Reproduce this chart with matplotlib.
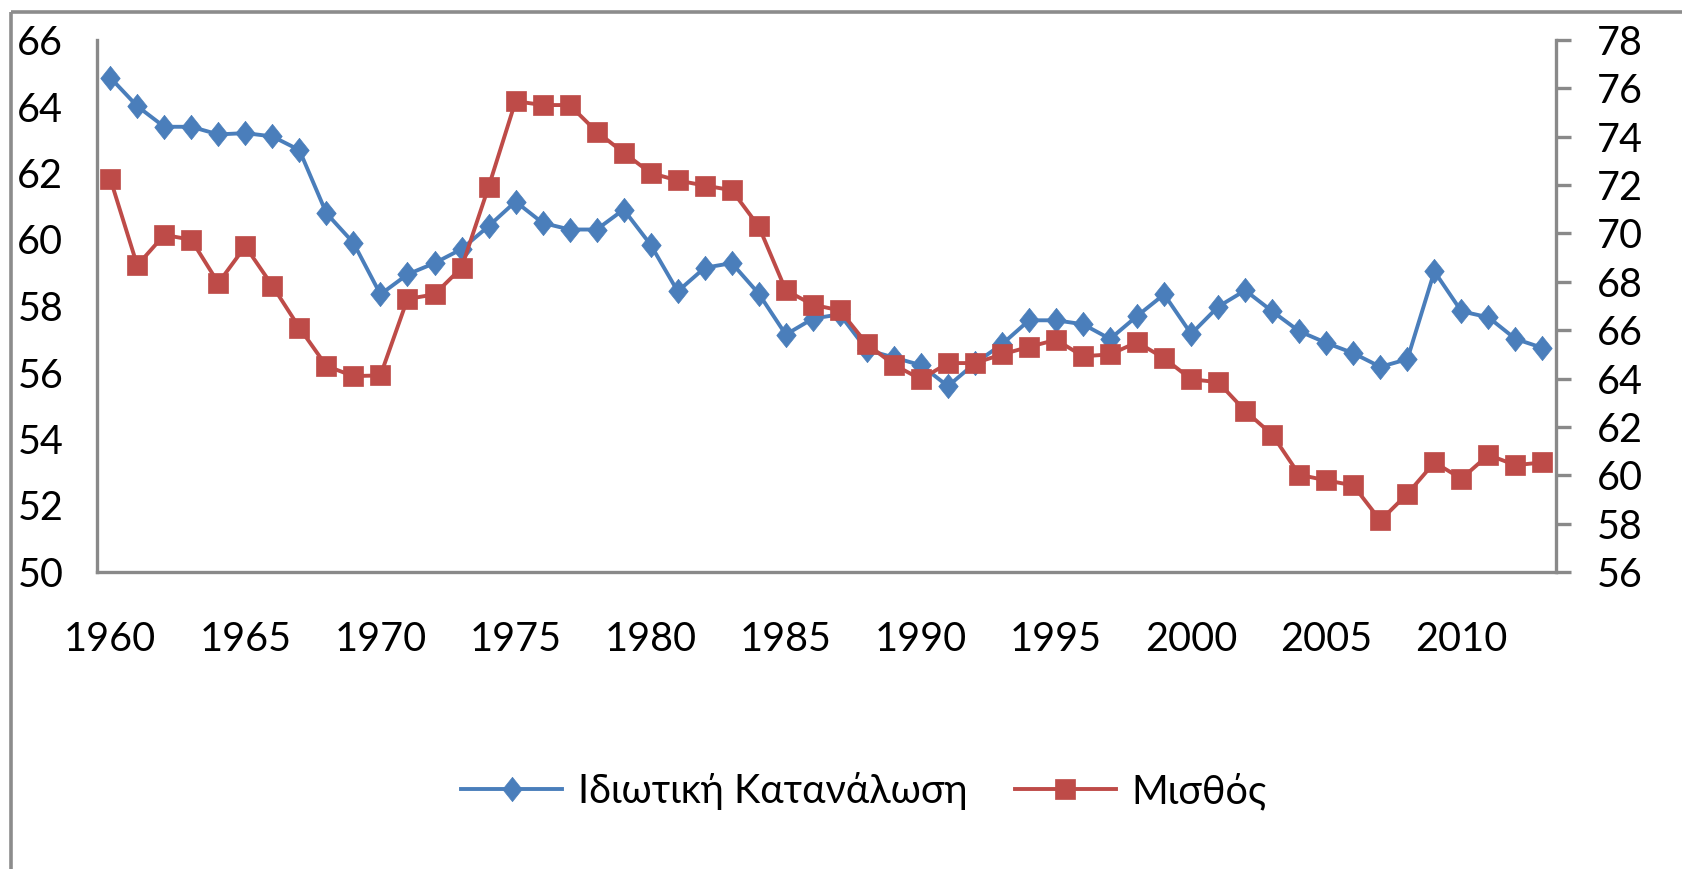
import matplotlib
matplotlib.use("Agg")
import matplotlib.pyplot as plt
from matplotlib.lines import Line2D

plt.rcParams['font.family'] = ['Lato', 'Open Sans', 'DejaVu Sans']

years = list(range(1960, 2014))
consumption = [64.87, 64.01, 63.39, 63.39, 63.16, 63.20, 63.10, 62.69, 60.79, 59.90,
               58.35, 58.95, 59.29, 59.71, 60.40, 61.14, 60.50, 60.30, 60.30, 60.90,
               59.84, 58.44, 59.15, 59.29, 58.37, 57.14, 57.62, 57.75, 56.68, 56.45,
               56.22, 55.59, 56.28, 56.85, 57.57, 57.57, 57.45, 57.01, 57.70, 58.35,
               57.16, 57.98, 58.47, 57.84, 57.24, 56.89, 56.58, 56.17, 56.40, 59.04,
               57.84, 57.66, 57.01, 56.74]
wages = [72.27, 68.68, 69.94, 69.74, 67.95, 69.47, 67.84, 66.10, 64.52, 64.10,
         64.13, 67.29, 67.48, 68.58, 71.92, 75.47, 75.31, 75.31, 74.21, 73.34,
         72.50, 72.19, 71.98, 71.79, 70.29, 67.65, 67.05, 66.82, 65.43, 64.57,
         63.97, 64.64, 64.64, 65.00, 65.31, 65.60, 64.92, 65.00, 65.50, 64.84,
         63.97, 63.85, 62.66, 61.68, 60.02, 59.79, 59.58, 58.13, 59.23, 60.53,
         59.86, 60.84, 60.42, 60.53]
series_names = ['Ιδιωτική Κατανάλωση', 'Μισθός']
xtick_years = [1960, 1965, 1970, 1975, 1980, 1985, 1990, 1995, 2000, 2005, 2010]
left_ticks = [50, 52, 54, 56, 58, 60, 62, 64, 66]
right_ticks = [56, 58, 60, 62, 64, 66, 68, 70, 72, 74, 76, 78]

BLUE = '#4A7EBB'
RED = '#BE4B48'
GRAY = '#898989'
FS = 28.5

W, H = 1682, 869
fig = plt.figure(figsize=(W / 100, H / 100), dpi=100)
fig.patch.set_facecolor('white')

# outer chart frame (left and top visible)
fig.add_artist(Line2D([11 / W, 11 / W], [0, 1 - 12 / H], transform=fig.transFigure,
                      color='#8c8c8c', lw=2.6, solid_capstyle='butt'))
fig.add_artist(Line2D([11 / W, 1], [1 - 12 / H, 1 - 12 / H], transform=fig.transFigure,
                      color='#8c8c8c', lw=2.6, solid_capstyle='butt'))

left, right, top, bottom = 96.7, 1556, 40, 572
ax = fig.add_axes([left / W, 1 - bottom / H, (right - left) / W, (bottom - top) / H])
ax2 = ax.twinx()

diamond = [(0, 1), (0.8, 0), (0, -1), (-0.8, 0), (0, 1)]

ax.plot(years, consumption, color=BLUE, lw=2.8, marker=diamond, markersize=17.5,
        markerfacecolor=BLUE, markeredgecolor=BLUE, markeredgewidth=0.5,
        label=series_names[0], solid_joinstyle='round')
ax2.plot(years, wages, color=RED, lw=2.8, marker='s', markersize=14,
         markerfacecolor=RED, markeredgecolor=RED, markeredgewidth=0.5,
         label=series_names[1], solid_joinstyle='round')

ax.set_xlim(1959.5, 2013.5)
ax.set_ylim(50, 66)
ax2.set_ylim(56, 78)
ax.set_xticks(xtick_years)
ax.set_xticklabels([str(y) for y in xtick_years])
ax.set_yticks(left_ticks)
ax2.set_yticks(right_ticks)

for a in (ax, ax2):
    for s in a.spines.values():
        s.set_color(GRAY)
        s.set_linewidth(2.4)
    a.spines['top'].set_visible(False)
ax2.spines['left'].set_visible(False)
ax2.spines['bottom'].set_visible(False)
ax.spines['right'].set_visible(False)

ax.tick_params(axis='x', length=0, pad=35, labelsize=FS)
ax.tick_params(axis='y', length=0, pad=24, labelsize=FS)
ax2.tick_params(axis='y', length=10.8, width=2.4, color=GRAY, pad=18.5, labelsize=FS)

handles = [ax.get_lines()[0], ax2.get_lines()[0]]
leg = fig.legend(handles, series_names, loc='center', bbox_to_anchor=(864 / W, 1 - 791 / H),
                 ncol=2, frameon=False, fontsize=FS, handlelength=2.55, handletextpad=0.4,
                 columnspacing=1.2, borderpad=0)

fig.savefig('out.png', dpi=100, facecolor='white')
